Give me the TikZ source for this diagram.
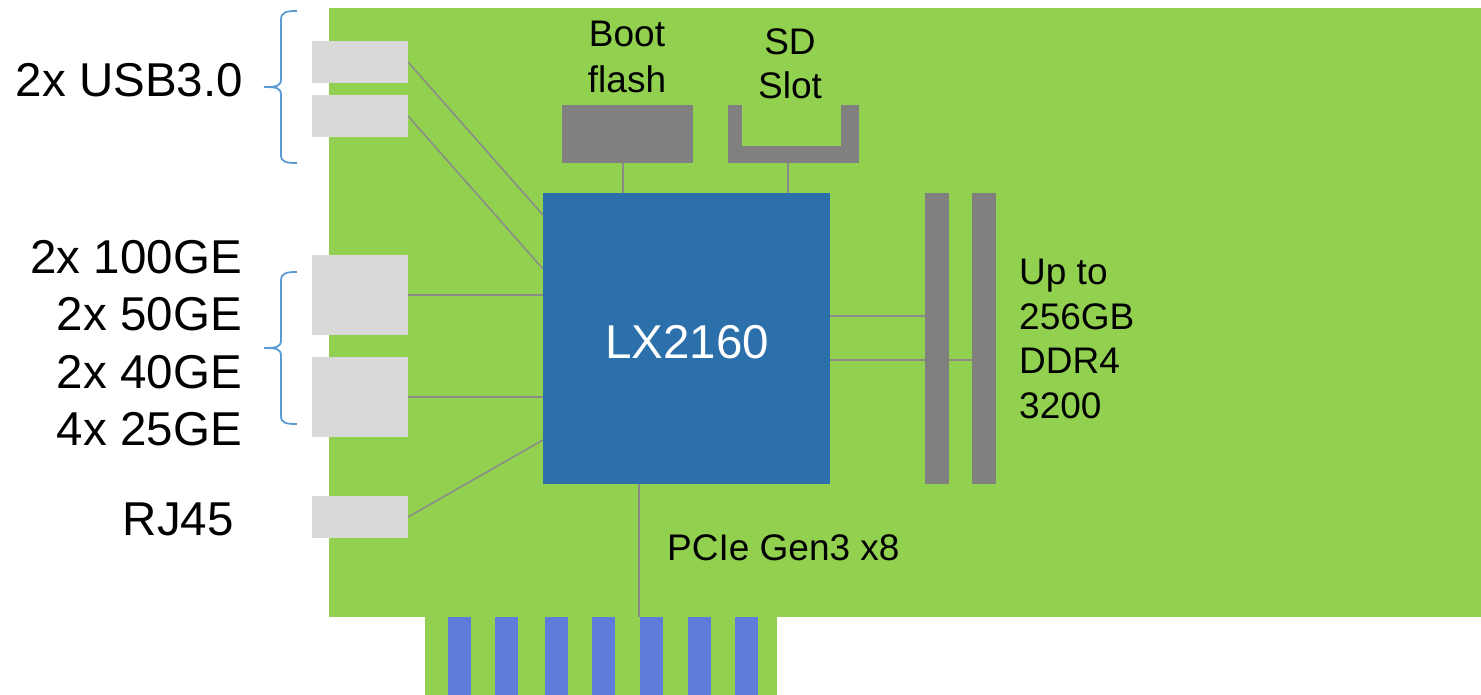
\documentclass[tikz,border=0pt]{standalone}
\usepackage{fontspec}
\setmainfont{Liberation Sans}
\pgfdeclarelayer{boardlayer}
\pgfdeclarelayer{wirelayer}
\pgfsetlayers{boardlayer,wirelayer,main}
\definecolor{boardgreen}{HTML}{92D050}
\definecolor{portgray}{HTML}{D9D9D9}
\definecolor{darkgray}{HTML}{808080}
\definecolor{chipblue}{HTML}{2B70AB}
\definecolor{fingerblue}{HTML}{5E7CD9}
\definecolor{bracecol}{HTML}{5B9BD5}
\definecolor{wirecol}{HTML}{8A8A8A}
\tikzset{
  box/.style={inner sep=0pt, outer sep=0pt, draw=none},
  port/.style={box, fill=portgray, minimum width=96pt},
  dimm/.style={box, fill=darkgray, minimum width=24pt, minimum height=291pt},
  wire/.style={draw=wirecol, line width=1.5pt},
  bigtxt/.style={inner sep=0pt, font=\fontsize{47.5}{57}\selectfont},
  smalltxt/.style={inner sep=0pt, font=\fontsize{37}{45}\selectfont},
  bracepath/.style={draw=bracecol, line width=1.8pt},
  finger/.style={fill=fingerblue}
}
\begin{document}
\begin{tikzpicture}[x=1pt,y=-1pt]
\useasboundingbox (0,0) rectangle (1481,695);
% board
\begin{pgfonlayer}{boardlayer}
\fill[boardgreen] (329,8) rectangle (1481,617);
\fill[boardgreen] (425,617) rectangle (777,695);
\foreach \fx in {448,495,545,592,640,688,735}{
  \fill[finger] (\fx,617) rectangle ++(23,78);
}
\end{pgfonlayer}
% nodes
\node[box, fill=chipblue, minimum width=287pt, minimum height=291pt] (chip) at (686.5,338.5) {};
\node[port, minimum height=42pt] (usb1) at (360,62) {};
\node[port, minimum height=42pt] (usb2) at (360,116) {};
\node[port, minimum height=80pt] (eth1) at (360,295) {};
\node[port, minimum height=80pt] (eth2) at (360,397) {};
\node[port, minimum height=42pt] (rj) at (360,517) {};
\node[box, fill=darkgray, minimum width=131pt, minimum height=58pt] (boot) at (627.5,134) {};
\node[box, fill=darkgray, minimum width=131pt, minimum height=58pt] (sd) at (793.5,134) {};
\fill[boardgreen] (742,105) rectangle (841,146);
\node[dimm] (dimm1) at (937,338.5) {};
\node[dimm] (dimm2) at (984,338.5) {};
\coordinate (pcieend) at (639,617);
% wires
\begin{pgfonlayer}{wirelayer}
\draw[wire] (usb1.east) -- (chip.west |- 0,215);
\draw[wire] (usb2.east) -- (chip.west |- 0,269);
\draw[wire] (eth1.east) -- (chip.west |- eth1.east);
\draw[wire] (eth2.east) -- (chip.west |- eth2.east);
\draw[wire] (rj.east) -- (chip.west |- 0,440);
\draw[wire] (boot.south -| 623,0) -- (chip.north -| 623,0);
\draw[wire] (sd.south -| 788,0) -- (chip.north -| 788,0);
\draw[wire] (chip.east |- 0,316) -- (dimm1.west |- 0,316);
\draw[wire] (chip.east |- 0,360) -- (dimm2.west |- 0,360);
\draw[wire] (chip.south -| pcieend) -- (pcieend);
\end{pgfonlayer}
% braces
\draw[bracepath] (297,11) .. controls (286,11) and (281,12) .. (281,20) -- (281,79)
  .. controls (281,86) and (277,87) .. (264,87)
  .. controls (277,87) and (281,88) .. (281,95) -- (281,155)
  .. controls (281,162) and (286,163) .. (297,163);
\draw[bracepath] (297,272) .. controls (286,272) and (281,273) .. (281,281) -- (281,340)
  .. controls (281,347) and (277,348) .. (264,348)
  .. controls (277,348) and (281,349) .. (281,356) -- (281,416)
  .. controls (281,423) and (286,424) .. (297,424);
% texts
\node[bigtxt, anchor=base east] (tusb) at (243,97) {2x USB3.0};
\node[bigtxt, anchor=base east] (te1) at (242,273) {2x 100GE};
\node[bigtxt, anchor=base east] (te2) at (242,330.5) {2x 50GE};
\node[bigtxt, anchor=base east] (te3) at (242,388) {2x 40GE};
\node[bigtxt, anchor=base east] (te4) at (242,445.5) {4x 25GE};
\node[bigtxt, anchor=base east] (trj) at (234,535) {RJ45};
\node[bigtxt, anchor=base, text=white] (tchip) at (687,358) {LX2160};
\node[smalltxt, anchor=base] (tboot1) at (627,47) {Boot};
\node[smalltxt, anchor=base] (tboot2) at (627,93) {flash};
\node[smalltxt, anchor=base] (tsd1) at (790,55) {SD};
\node[smalltxt, anchor=base] (tsd2) at (790,99) {Slot};
\node[smalltxt, anchor=base west] (tm1) at (1019,284) {Up to};
\node[smalltxt, anchor=base west] (tm2) at (1019,329) {256GB};
\node[smalltxt, anchor=base west] (tm3) at (1019,373.5) {DDR4};
\node[smalltxt, anchor=base west] (tm4) at (1019,418) {3200};
\node[smalltxt, anchor=base west] (tpcie) at (667,560) {PCIe Gen3 x8};
\end{tikzpicture}
\end{document}
